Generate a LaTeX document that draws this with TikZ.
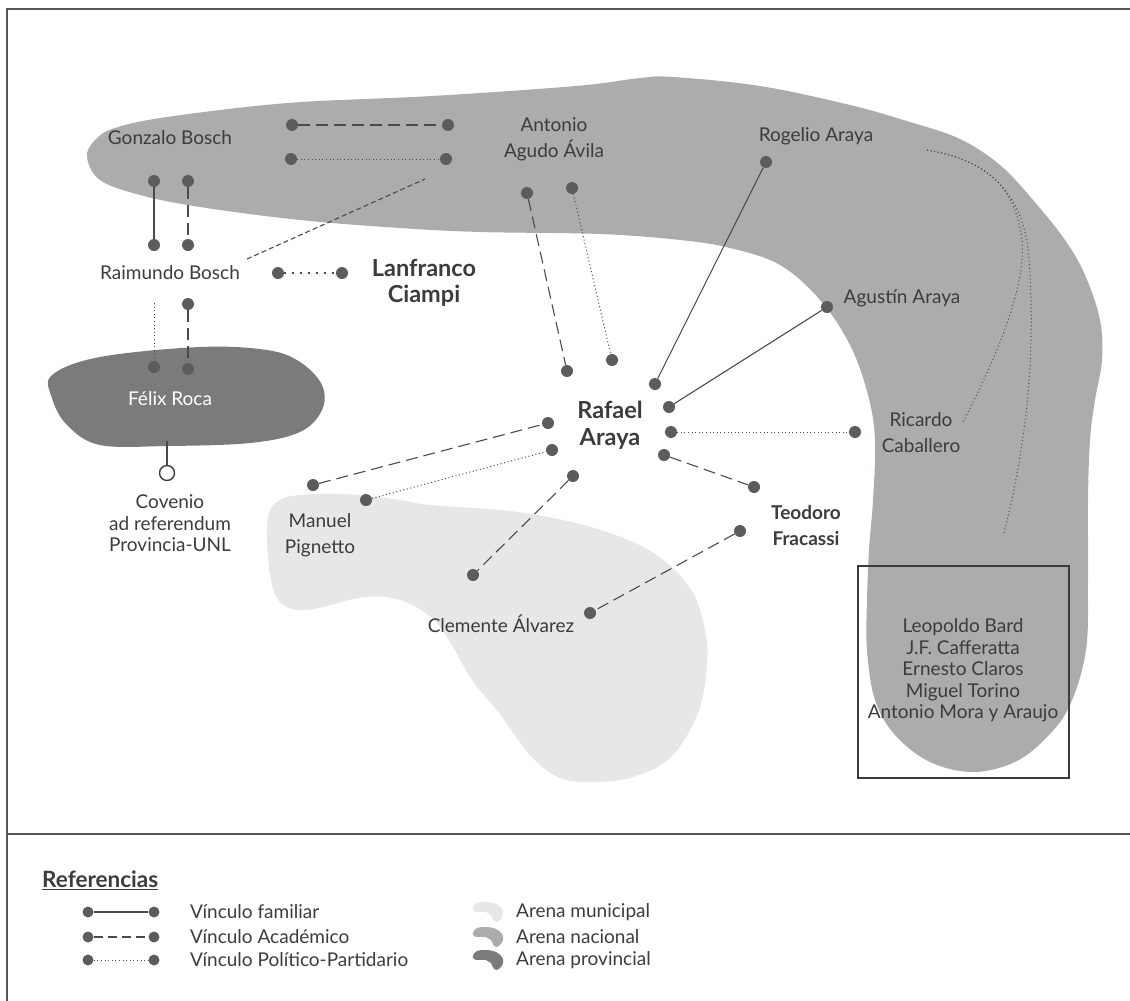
\documentclass[tikz,border=0pt]{standalone}
\usepackage{fontspec}
\setmainfont{Lato}
\definecolor{nac}{HTML}{ABACAE}
\definecolor{prov}{HTML}{7A7B7D}
\definecolor{muni}{HTML}{E6E7E8}
\definecolor{txt}{HTML}{3C3C3E}
\definecolor{linec}{HTML}{4A4A4C}
\definecolor{dotc}{HTML}{5C5C5E}
\definecolor{framec}{HTML}{555557}
\tikzset{
  dot/.style={circle, fill=dotc, inner sep=0pt, minimum size=12pt},
  ldot/.style={circle, fill=dotc, inner sep=0pt, minimum size=11pt},
  opendot/.style={circle, draw=txt, fill=white, line width=1.4pt, inner sep=0pt, minimum size=15pt},
  fam/.style={draw=linec, line width=1.1pt},
  acad/.style={draw=linec, line width=1.1pt, dash pattern=on 12pt off 6pt},
  shortdash/.style={draw=linec, line width=1.1pt, dash pattern=on 5pt off 3pt},
  pol/.style={draw=linec, line width=1pt, dash pattern=on 1pt off 2.6pt},
  sparsepol/.style={draw=linec, line width=1.3pt, dash pattern=on 2pt off 6pt},
  lbl/.style={text=txt, font=\fontsize{19}{26}\selectfont, align=center, inner sep=0pt},
  blbl/.style={text=txt, font=\fontsize{23.5}{26.5}\selectfont\bfseries, align=center, inner sep=0pt},
  tbl/.style={text=txt, font=\fontsize{19}{21.4}\selectfont, align=center, inner sep=0pt},
  legt/.style={text=txt, font=\fontsize{19}{20}\selectfont, anchor=west, inner sep=0pt},
  frame/.style={draw=framec, line width=1.5pt},
  arenaicon/.pic={\fill[pic actions] plot[smooth cycle, tension=0.7] coordinates {(0,6) (4,1) (14,0) (23,2) (29,7) (30,13) (26,19) (21,19) (18,13) (13,10) (5,10) (1,9)};}
}
\begin{document}
\begin{tikzpicture}[x=1pt,y=-1pt]
\useasboundingbox (0,0) rectangle (1130,1001);
% frame
\draw[frame] (1130,9) -- (7,9) -- (7,1001);
\draw[frame] (7,834) -- (1130,834);
% arenas
\fill[nac] plot[smooth cycle, tension=0.6] coordinates {
(87,157) (95,140) (115,128) (167,117) (288,103) (432,96) (576,86) (640,78) (673,77) (760,86) (850,105) (910,122) (960,139) (1000,165) (1033,200) (1065,240) (1085,275) (1100,320) (1102,360) (1095,400) (1090,440) (1088,500) (1088,580) (1086,650) (1070,705) (1047,737) (1015,762) (973,772) (930,762) (895,735) (875,700) (867,650) (867,600) (869,550) (873,500) (875,440) (868,395) (850,345) (820,300) (780,265) (730,248) (680,240) (600,234) (480,232) (400,228) (300,220) (200,207) (140,195) (100,180)};
\fill[prov] plot[smooth cycle, tension=0.6] coordinates {
(52,375) (100,357) (200,347) (267,350) (300,362) (322,385) (322,410) (300,432) (250,443) (167,446) (100,445) (67,425) (52,398)};
\fill[muni] plot[smooth cycle, tension=0.6] coordinates {
(269,513) (280,500) (300,495) (346,494) (400,500) (430,505) (518,512) (594,528) (652,552) (690,588) (705,630) (707,665) (698,713) (671,757) (633,777) (595,782) (560,778) (530,755) (499,713) (472,680) (453,647) (434,620) (403,601) (365,597) (307,610) (281,603) (271,580) (267,540)};
% box
\node[draw=txt, line width=1.2pt, inner sep=0pt, minimum width=211pt, minimum height=212pt] (box) at (963.5,672) {};
% texts
\node[lbl] (gonzalo) at (170,138) {Gonzalo Bosch};
\node[lbl] (raimundo) at (170,273) {Raimundo Bosch};
\node[blbl] (lanfranco) at (424,283) {Lanfranco\\Ciampi};
\node[lbl] (antonio) at (554,139) {Antonio\\Agudo Ávila};
\node[lbl] (rogelio) at (816,136) {Rogelio Araya};
\node[lbl] (agustin) at (902,298) {Agustín Araya};
\node[blbl] (rafael) at (610,425) {Rafael\\Araya};
\node[lbl] (ricardo) at (921,433) {Ricardo\\Caballero};
\node[blbl, font=\fontsize{19}{26}\selectfont\bfseries] (teodoro) at (806,526) {Teodoro\\Fracassi};
\node[lbl] (manuel) at (320,535) {Manuel\\Pignetto};
\node[lbl] (clemente) at (501,624) {Clemente Álvarez};
\node[lbl, text=white] (felix) at (170,399) {Félix Roca};
\node[tbl] (covenio) at (170,523.5) {Covenio\\ad referendum\\Provincia-UNL};
\node[tbl] (lista) at (963,670.5) {Leopoldo Bard\\J.F. Cafferatta\\Ernesto Claros\\Miguel Torino\\Antonio Mora y Araujo};
% dots
\node[dot] (tA1) at (292,125) {};
\node[dot] (tA2) at (448,125) {};
\node[dot] (tP1) at (291,159) {};
\node[dot] (tP2) at (446,159) {};
\node[dot] (g1) at (154,181) {};
\node[dot] (g2) at (188,181) {};
\node[dot] (r1) at (154,245) {};
\node[dot] (r2) at (188,245) {};
\node[dot] (l1) at (278,273) {};
\node[dot] (l2) at (342,273) {};
\node[dot] (r3) at (188,304) {};
\node[dot] (f1) at (154,367) {};
\node[dot] (f2) at (188,369) {};
\node[dot] (an1) at (527,193) {};
\node[dot] (an2) at (572,188) {};
\node[dot] (ra1) at (567,371) {};
\node[dot] (ra2) at (612,360) {};
\node[dot] (ro1) at (766,162) {};
\node[dot] (ra3) at (655,384) {};
\node[dot] (ag1) at (827,307) {};
\node[dot] (ra4) at (669,407) {};
\node[dot] (ra5) at (671,432) {};
\node[dot] (ri1) at (855,432) {};
\node[dot] (ra6) at (548,423) {};
\node[dot] (ra7) at (552,450) {};
\node[dot] (m1) at (313,485) {};
\node[dot] (m2) at (366,500) {};
\node[dot] (ra8) at (573,476) {};
\node[dot] (c1) at (473,575) {};
\node[dot] (ra9) at (664,455) {};
\node[dot] (te1) at (754,487) {};
\node[dot] (te2) at (740,531) {};
\node[dot] (c2) at (590,613) {};
\node[opendot] (conv) at (167,473) {};
% free ends
\coordinate (rbA) at (247,259);
\coordinate (rbB) at (425,179);
\coordinate (rpol) at (154,303);
\coordinate (fb) at (167,441);
\coordinate (rc0) at (927,150);
\coordinate (rc1) at (963,422);
\coordinate (rc2) at (1004,533);
% connectors
\draw[acad] (tA1) -- (tA2);
\draw[pol] (tP1) -- (tP2);
\draw[fam] (g1) -- (r1);
\draw[acad] (g2) -- (r2);
\draw[shortdash] (rbA) -- (rbB);
\draw[sparsepol] (l1) -- (l2);
\draw[pol] (rpol) -- (f1);
\draw[acad] (r3) -- (f2);
\draw[fam] (fb) -- (conv);
\draw[acad] (an1) -- (ra1);
\draw[pol] (an2) -- (ra2);
\draw[fam] (ro1) -- (ra3);
\draw[fam] (ag1) -- (ra4);
\draw[pol] (ra5) -- (ri1);
\draw[acad] (m1) -- (ra6);
\draw[pol] (m2) -- (ra7);
\draw[acad] (ra8) -- (c1);
\draw[acad] (ra9) -- (te1);
\draw[acad] (te2) -- (c2);
\draw[pol] (rc0) .. controls (985,160) and (1015,185) .. (1022,240) .. controls (1027,290) and (990,370) .. (rc1);
\draw[pol] (rc0) .. controls (990,160) and (1025,195) .. (1029,260) .. controls (1035,340) and (1030,430) .. (rc2);
% legend
\node[text=txt, font=\fontsize{22.5}{24}\selectfont\bfseries, anchor=west, inner sep=0pt] (ref) at (42,880) {\underline{Referencias}};
\node[ldot] (lf1) at (88,912) {};
\node[ldot] (lf2) at (154,912) {};
\node[ldot] (la1) at (88,937) {};
\node[ldot] (la2) at (154,937) {};
\node[ldot] (lp1) at (88,960) {};
\node[ldot] (lp2) at (154,960) {};
\draw[fam] (lf1) -- (lf2);
\draw[linec, line width=1.1pt, dash pattern=on 9pt off 5pt] (la1) -- (la2);
\draw[pol] (lp1) -- (lp2);
\node[legt] (lft) at (190,912) {Vínculo familiar};
\node[legt] (lat) at (190,937) {Vínculo Académico};
\node[legt] (lpt) at (190,960) {Vínculo Político-Partidario};
\pic[fill=muni] at (473,902) {arenaicon};
\pic[fill=nac] at (473,927) {arenaicon};
\pic[fill=prov] at (473,950) {arenaicon};
\node[legt] (lmt) at (516,912) {Arena municipal};
\node[legt] (lnt) at (516,937) {Arena nacional};
\node[legt] (lvt) at (516,960) {Arena provincial};
\end{tikzpicture}
\end{document}
